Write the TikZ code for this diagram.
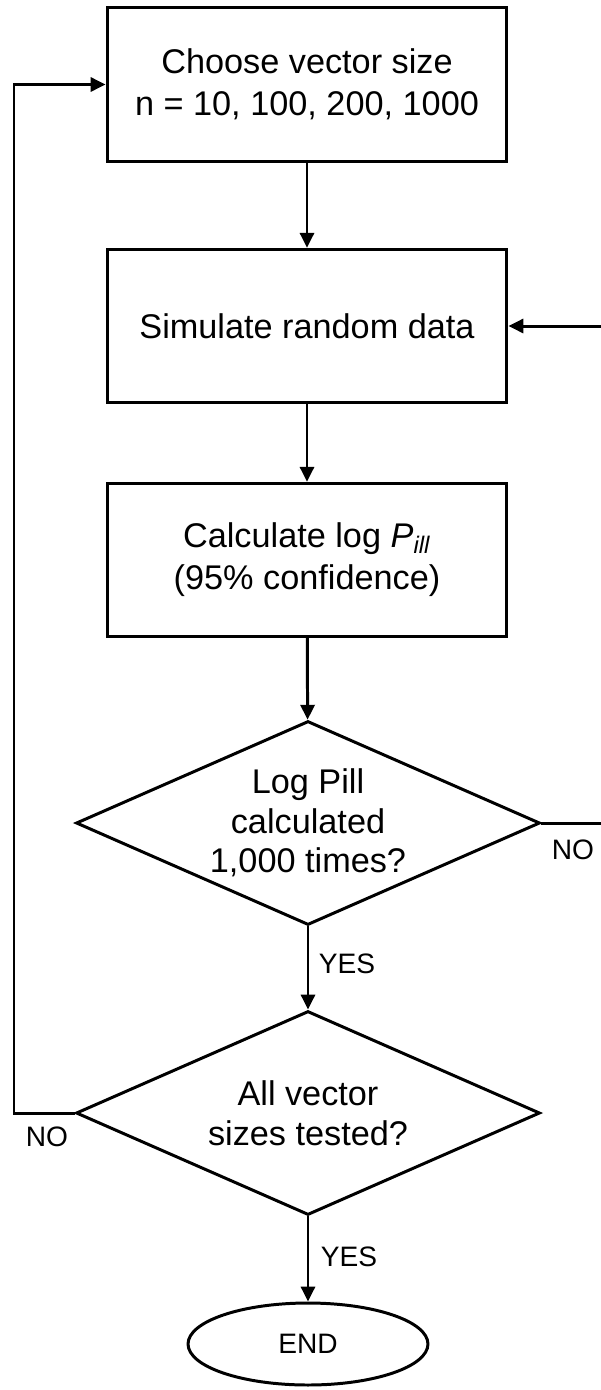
\documentclass[tikz,border=0pt]{standalone}
\usepackage{fontspec}
\setmainfont{Liberation Sans}
\usepackage{xcolor}
\usetikzlibrary{arrows.meta,positioning,shapes.geometric}
\definecolor{fcInk}{HTML}{000000}

\begin{document}
\begin{tikzpicture}[x=0.02cm,y=-0.02cm,
  >={Triangle[length=8.5pt,width=8pt]},
  every path/.style={line width=1.7pt,fcInk},
  procbox/.style={draw,rectangle,minimum width=8cm,minimum height=3.07cm,
    align=center,font=\fontsize{19.5}{24}\selectfont},
  decision/.style={draw,diamond,aspect=2.27,inner sep=0pt,minimum width=9.28cm,
    minimum height=4.08cm,align=center,font=\fontsize{19.5}{22.5}\selectfont},
  terminal/.style={draw,ellipse,minimum width=4.8cm,minimum height=1.64cm,
    inner sep=0pt,font=\fontsize{16}{18}\selectfont},
  answer/.style={font=\fontsize{16}{18}\selectfont,inner sep=0pt}]
\useasboundingbox (0,0) rectangle (600,1390);
% process steps
\node[procbox] (choose) at (307,84.5) {Choose vector size\\n = 10, 100, 200, 1000};
\node[procbox] (simulate) at (307,326) {Simulate random data};
\node[procbox] (calc) at (307,560) {Calculate log \textit{P}\textsubscript{\textit{ill}}\\(95\% confidence)};
% decisions
\node[decision] (enough) at (308,823) {Log Pill\\calculated\\1,000 times?};
\node[decision] (allsizes) at (308,1113) {All vector\\sizes tested?};
\node[terminal] (finish) at (308,1344) {END};
% rails for the two loops
\coordinate (leftrail) at (14,0);
\coordinate (rightrail) at (604,0);
\draw[->] (choose) -- (simulate);
\draw[->] (simulate) -- (calc);
\draw[->] (calc) -- (enough);
\draw[->] (enough) -- (allsizes);
\draw[->] (allsizes) -- (finish);
\node[answer] (yes1) at (347,964) {YES};
\node[answer] (yes2) at (349,1257) {YES};
\draw[->] (enough.east) -- (enough.east -| rightrail) |- (simulate.east);
\node[answer] (no1) at (573,850) {NO};
\draw[->] (allsizes.west) -- (allsizes.west -| leftrail) |- (choose.west);
\node[answer] (no2) at (47,1137) {NO};
\end{tikzpicture}
\end{document}
